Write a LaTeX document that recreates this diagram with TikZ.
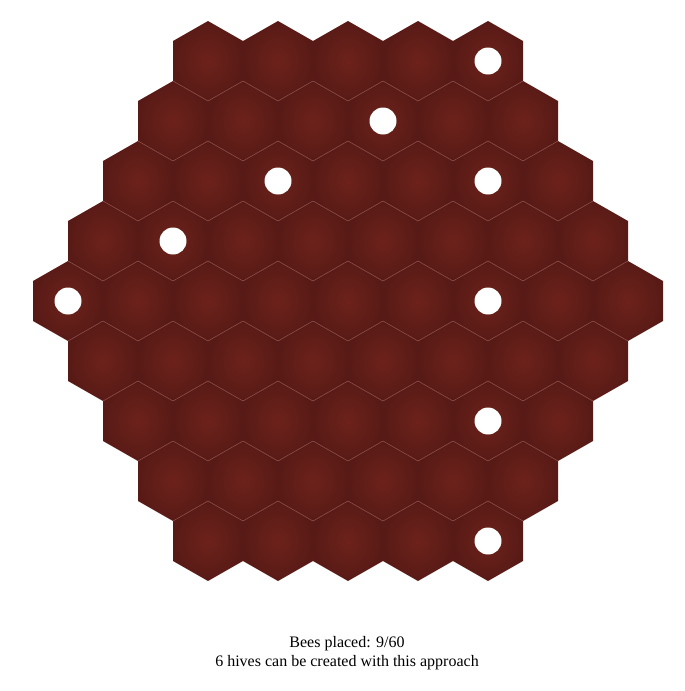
\documentclass[tikz,border=0pt]{standalone}
\usepackage{fontspec}
\setmainfont{Liberation Serif}
\definecolor{hexin}{HTML}{6D221B}
\definecolor{hexout}{HTML}{581A16}
\definecolor{hexedge}{HTML}{8E4C46}
\tikzset{
  hexcell/.style={inner color=hexin, outer color=hexout},
  hexline/.style={draw=hexedge, line width=0.5pt, line cap=round},
  bee/.style={circle, fill=white, inner sep=0pt, minimum size=27pt},
  caption/.style={font=\fontsize{16}{19}\selectfont, anchor=base, inner sep=0pt}
}
\begin{document}
\begin{tikzpicture}[x=1pt,y=-1pt]
\fill[white] (0,0) rectangle (685,691);
\useasboundingbox (0,0) rectangle (685,691);
\foreach \i in {0,...,8}{
  \pgfmathtruncatemacro\n{9-abs(\i-4)}
  \foreach \k in {1,...,\n}{
    \pgfmathsetmacro\cx{348+(\k-1-(\n-1)/2)*70}
    \pgfmathsetmacro\cy{61+60*\i}
    \shade[hexcell] (\cx,\cy-40) -- (\cx+35,\cy-20) -- (\cx+35,\cy+20) -- (\cx,\cy+40) -- (\cx-35,\cy+20) -- (\cx-35,\cy-20) -- cycle;
  }
}
\foreach \i in {0,...,7}{
  \pgfmathtruncatemacro\n{9-abs(\i-4)}
  \foreach \k in {1,...,\n}{
    \pgfmathsetmacro\cx{348+(\k-1-(\n-1)/2)*70}
    \pgfmathsetmacro\cy{61+60*\i}
    \pgfmathtruncatemacro\dl{(\i<4) || (\k>1)}
    \pgfmathtruncatemacro\dr{(\i<4) || (\k<\n)}
    \ifnum\dl=1 \draw[hexline] (\cx-35,\cy+20) -- (\cx,\cy+40);\fi
    \ifnum\dr=1 \draw[hexline] (\cx,\cy+40) -- (\cx+35,\cy+20);\fi
  }
}
\foreach \i/\k [count=\c] in {0/5, 1/4, 2/3, 2/6, 3/2, 4/1, 4/7, 6/6, 8/5}{
  \pgfmathtruncatemacro\n{9-abs(\i-4)}
  \pgfmathsetmacro\cx{348+(\k-1-(\n-1)/2)*70}
  \pgfmathsetmacro\cy{61+60*\i}
  \node[bee] (bee\c) at (\cx,\cy) {};
}
\node[caption] (line1) at (347,647) {Bees placed: 9/60};
\node[caption] (line2) at (347,666) {6 hives can be created with this approach};
\end{tikzpicture}
\end{document}
